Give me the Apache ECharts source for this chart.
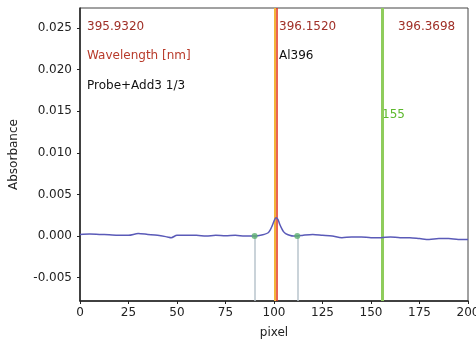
<!DOCTYPE html>
<html><head><meta charset="utf-8">
<script src="https://cdn.jsdelivr.net/npm/echarts@6/dist/echarts.min.js"></script>
<style>html,body{margin:0;padding:0;background:#fff}#c{width:476px;height:340px}</style>
</head><body><div id="c"></div>
<script>
// ---- data ----
const pixels = [0,5,10,15,20,25,30,35,40,45,47,50,55,60,65,70,75,80,85,90,93,95,97,98,99,100,101,102,103,104,105,106,108,110,112,115,120,125,130,135,140,145,150,155,160,165,170,175,180,185,190,195,200];
const absorbance = [0.0002,0.00025,0.0002,0.00015,0.0001,0.0001,0.0003,0.0002,0.0001,-0.0001,-0.0002,0.0001,0.0001,0.0001,0.0,0.0001,0.00005,0.0001,0.0,0.0,0.0001,0.0002,0.0004,0.0007,0.0012,0.0018,0.0022,0.0020,0.0014,0.0009,0.0005,0.0003,0.0001,0.0,0.0,0.0001,0.0002,0.0001,0.0,-0.0002,-0.0001,-0.0001,-0.0002,-0.0002,-0.0001,-0.0002,-0.0002,-0.0003,-0.0004,-0.0003,-0.0003,-0.0004,-0.0004];
const yTicks = [-0.005,0,0.005,0.010,0.015,0.020,0.025];
const xTicks = [0,25,50,75,100,125,150,175,200];
const peakLineOrange = 100.6;
const peakLineRed = 101.4;
const cursorLine = 155.6;
const baselinePoints = [90, 112];
const baselineValue = 0.0;
const yMin = -0.0078, yMax = 0.0274;
const leftTexts = ['395.9320','Wavelength [nm]','Probe+Add3 1/3'];
const midTexts = ['396.1520','Al396'];
const rightText = '396.3698';
const cursorText = '155';

const chart = echarts.init(document.getElementById('c'));
const FONT = 'DejaVu Sans';
const lineData = pixels.map((p,i)=>[p, absorbance[i]]);
chart.setOption({
  animation:false,
  grid:{left:80,right:8,top:8,bottom:39,show:true,borderColor:'#444',borderWidth:1,outerBoundsMode:'none',containLabel:false},
  xAxis:{type:'value',min:0,max:200,interval:25,
    name:'pixel',nameLocation:'middle',nameGap:26,
    nameTextStyle:{fontFamily:FONT,fontSize:12,color:'#222'},
    axisLine:{onZero:false,lineStyle:{color:'#222',width:1.5}},
    axisTick:{show:true,length:3,customValues:xTicks,lineStyle:{color:'#222'}},
    axisLabel:{fontFamily:FONT,fontSize:12,color:'#222',margin:6,customValues:xTicks},
    splitLine:{show:false}},
  yAxis:{type:'value',min:yMin,max:yMax,
    name:'Absorbance',nameLocation:'middle',nameGap:60,
    nameTextStyle:{fontFamily:FONT,fontSize:12,color:'#222'},
    axisLine:{show:true,onZero:false,lineStyle:{color:'#222',width:1.5}},
    axisTick:{show:true,length:3,customValues:yTicks,lineStyle:{color:'#222'}},
    axisLabel:{fontFamily:FONT,fontSize:12,color:'#222',margin:8,customValues:yTicks,
      formatter:v=>v.toFixed(3)},
    splitLine:{show:false}},
  series:[
    {type:'line',data:lineData,showSymbol:false,smooth:0.3,z:5,
     lineStyle:{color:'#5a5ab8',width:1.5},
     markLine:{silent:true,symbol:'none',label:{show:false},
       data:[
         [{coord:[baselinePoints[0],baselineValue],lineStyle:{color:'#b8c4cc',width:1.5,type:'solid'}},{coord:[baselinePoints[0],yMin]}],
         [{coord:[baselinePoints[1],baselineValue],lineStyle:{color:'#b8c4cc',width:1.5,type:'solid'}},{coord:[baselinePoints[1],yMin]}],
         {xAxis:peakLineOrange,lineStyle:{color:'#f2b43a',width:2,type:'solid'}},
         {xAxis:peakLineRed,lineStyle:{color:'#e2301e',width:1.5,type:'solid'}},
         {xAxis:cursorLine,lineStyle:{color:'#8fcc5c',width:3,type:'solid'}}
       ]}},
    {type:'scatter',data:baselinePoints.map(p=>[p,baselineValue]),symbolSize:6,z:6,
     itemStyle:{color:'#5cb070'}}
  ],
  graphic:[
    {type:'text',left:87,top:21,style:{text:leftTexts[0],fontFamily:FONT,fontSize:12,fill:'#a03028'}},
    {type:'text',left:87,top:50,style:{text:leftTexts[1],fontFamily:FONT,fontSize:12,fill:'#b83a2a'}},
    {type:'text',left:87,top:80,style:{text:leftTexts[2],fontFamily:FONT,fontSize:12,fill:'#111'}},
    {type:'text',left:279,top:21,style:{text:midTexts[0],fontFamily:FONT,fontSize:12,fill:'#a03028'}},
    {type:'text',left:279,top:50,style:{text:midTexts[1],fontFamily:FONT,fontSize:12,fill:'#111'}},
    {type:'text',left:398,top:21,style:{text:rightText,fontFamily:FONT,fontSize:12,fill:'#a03028'}},
    {type:'text',left:382,top:109,style:{text:cursorText,fontFamily:FONT,fontSize:12,fill:'#5cb82c'}}
  ]
});
</script></body></html>
